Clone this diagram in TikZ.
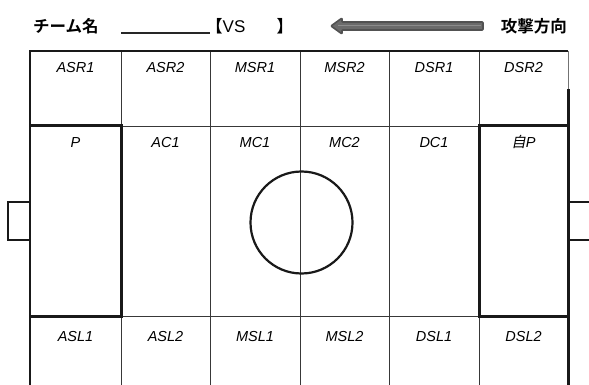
\documentclass[tikz,border=0pt]{standalone}
\usepackage{fontspec}
\setmainfont{Liberation Sans}
\newfontfamily\jpfont{Noto Sans CJK JP}
\newfontfamily\jpbold[BoldFont={Noto Sans CJK JP Bold}]{Noto Sans CJK JP}
\newfontfamily\jpslant[FakeSlant=0.2]{Noto Sans CJK JP}
\begin{document}
\begin{tikzpicture}[x=1pt,y=-1pt,
  thinline/.style={line width=0.9pt,draw=black!78},
  boldline/.style={line width=3pt,draw=black!90},
  outline/.style={line width=2.2pt,draw=black!90},
  zone/.style={font=\itshape\fontsize{14.5}{15}\selectfont,anchor=base,inner sep=0pt},
  head/.style={font=\jpbold\bfseries\fontsize{16.5}{17}\selectfont,inner sep=0pt}]
\useasboundingbox (0,0) rectangle (589,385);
% inner grid
\foreach \x in {121,210,300,389,479} \draw[thinline] (\x,51) -- (\x,385);
\draw[thinline] (30,126) -- (568,126);
\draw[thinline] (30,316) -- (568,316);
% outer border
\draw[outline] (30,385) -- (30,51) -- (568,51);
\draw[line width=1pt,draw=black!55] (568,51) -- (568,89);
\draw[boldline] (568,89) -- (568,385);
% penalty areas
\draw[boldline] (30,126) -- (121,126) -- (121,316) -- (30,316);
\draw[boldline] (568,126) -- (479,126) -- (479,316) -- (568,316);
% goals
\draw[outline] (30,202) -- (8,202) -- (8,240) -- (30,240);
\draw[outline] (568,202) -- (590,202);
\draw[outline] (568,240) -- (590,240);
% centre circle
\draw[outline] (301.5,222.5) circle (51);
% zone labels
\node[zone] (asr1) at (75.5,72.5) {ASR1};
\node[zone] (asr2) at (165.5,72.5) {ASR2};
\node[zone] (msr1) at (255,72.5) {MSR1};
\node[zone] (msr2) at (344.5,72.5) {MSR2};
\node[zone] (dsr1) at (434,72.5) {DSR1};
\node[zone] (dsr2) at (523.5,72.5) {DSR2};
\node[zone] (p) at (75.5,147.5) {P};
\node[zone] (ac1) at (165.5,147.5) {AC1};
\node[zone] (mc1) at (255,147.5) {MC1};
\node[zone] (mc2) at (344.5,147.5) {MC2};
\node[zone] (dc1) at (434,147.5) {DC1};
\node[zone] (ownp) at (523.5,147.5) {{\jpslant 自}P};
\node[zone] (asl1) at (75.5,341.5) {ASL1};
\node[zone] (asl2) at (165.5,341.5) {ASL2};
\node[zone] (msl1) at (255,341.5) {MSL1};
\node[zone] (msl2) at (344.5,341.5) {MSL2};
\node[zone] (dsl1) at (434,341.5) {DSL1};
\node[zone] (dsl2) at (523.5,341.5) {DSL2};
% header
\node[head,anchor=west] (team) at (33,26) {チーム名};
\draw[line width=1.4pt,black!85] (121,33) -- (210,33);
\node[head,anchor=west] (vs) at (206,26) {【{\normalfont\fontsize{17}{18}\selectfont VS}\hspace{1.9em}】};
\node[head,anchor=east] (dir) at (567,26) {攻撃方向};
% attack direction arrow
\filldraw[draw=black!68,fill=black!58,line width=1.6pt,line join=round,rounded corners=0.8pt]
  (483,22) -- (342,22) -- (342,18) -- (331,26) -- (342,34) -- (342,30) -- (483,30) -- cycle;
\draw[black!45,line width=1pt] (481,26) -- (338,26);
\end{tikzpicture}
\end{document}
